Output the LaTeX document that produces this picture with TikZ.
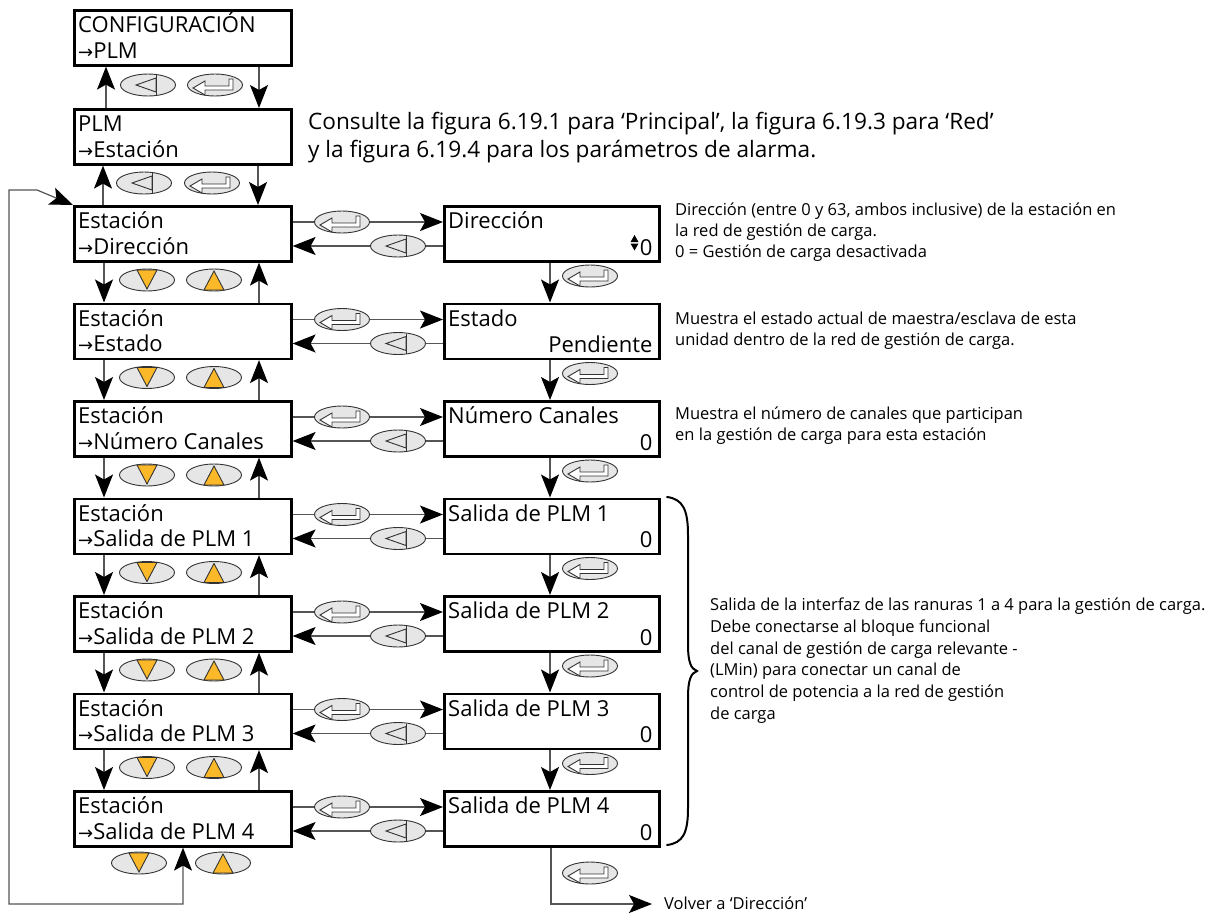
\documentclass[tikz,border=0pt]{standalone}
\usepackage{fontspec}
\setmainfont{Open Sans}
\newfontfamily\dv{DejaVu Sans}
\usetikzlibrary{arrows.meta,calc,shapes.geometric}
\definecolor{btnfill}{HTML}{E6E6E6}
\definecolor{btnline}{HTML}{333333}
\definecolor{orng}{HTML}{FBB829}
\definecolor{connc}{HTML}{555555}
\newcommand\myarr{{\dv\fontsize{18}{18}\selectfont →}}
\tikzset{
 box/.style={draw=black, line width=2.6pt, minimum width=217pt, minimum height=55pt, anchor=north west, inner sep=0pt, fill=white},
 btn/.style={ellipse, draw=btnline, fill=btnfill, line width=0.9pt, minimum width=55pt, minimum height=22pt, inner sep=0pt},
 conn/.style={draw=connc, line width=1.2pt},
 arr/.style={conn, -{Stealth[length=23pt,width=18pt,inset=5pt,black]}},
 arrboth/.style={conn, {Stealth[length=23pt,width=18pt,inset=5pt,black]}-{Stealth[length=23pt,width=18pt,inset=5pt,black]}},
 bt/.style={anchor=base west, inner sep=0pt, font=\fontsize{22}{24}\selectfont},
 btr/.style={anchor=base east, inner sep=0pt, font=\fontsize{22}{24}\selectfont},
 big/.style={anchor=base west, inner sep=0pt, font=\fontsize{22.6}{26}\selectfont},
 desc/.style={anchor=base west, inner sep=0pt, font=\fontsize{16.5}{21.5}\selectfont},
 icon/.style={draw=btnline, line width=0.9pt},
 backbtn/.pic={\node[btn] (-e) {};
   \draw[icon] (-12,0) -- (8,-7) -- (8,7) -- cycle;
   \draw[icon] (8,-10) -- (8,10);},
 enterbtn/.pic={\node[btn] (-e) {};
   \draw[icon, fill=white] (-22,3) -- (-10,-4) -- (-10,1) -- (14,1) -- (14,-6) -- (18,-6) -- (18,5) -- (-10,5) -- (-10,10) -- cycle;},
 downbtn/.pic={\node[btn] (-e) {};
   \draw[icon, fill=orng] (-10,-10) -- (10,-10) -- (0,9) -- cycle;},
 upbtn/.pic={\node[btn] (-e) {};
   \draw[icon, fill=orng] (-10,10) -- (10,10) -- (0,-9) -- cycle;},
}
\begin{document}
\begin{tikzpicture}[x=1pt,y=-1pt]
\useasboundingbox (0,0) rectangle (1218,913);
\fill[white] (0,0) rectangle (1218,913);

% ---------- boxes ----------
\node[box] (C) at (73,9) {};
\node[box] (P) at (73,108) {};
\foreach \i in {0,...,6} {
  \pgfmathsetmacro\yy{205+97.5*\i}
  \node[box] (L\i) at (73,\yy) {};
  \node[box, minimum width=215pt] (R\i) at (443,\yy) {};
}

% ---------- vertical connectors, left column ----------
\draw[arr] ($(P.north west)+(33,0)$) -- ($(C.south west)+(33,0)$);
\draw[arr] ($(C.south west)+(186,0)$) -- ($(P.north west)+(186,0)$);
\draw[arr] ($(L0.north west)+(30,0)$) -- ($(P.south west)+(30,0)$);
\draw[arr] ($(P.south west)+(185,0)$) -- ($(L0.north west)+(185,0)$);
\foreach \i [evaluate=\i as \j using int(\i+1)] in {0,...,5} {
  \draw[arr] ($(L\i.south west)+(31,0)$) -- ($(L\j.north west)+(31,0)$);
  \draw[arr] ($(L\j.north west)+(186,0)$) -- ($(L\i.south west)+(186,0)$);
  \draw[arr] ($(R\i.south west)+(107,0)$) -- ($(R\j.north west)+(107,0)$);
}

% ---------- horizontal connectors ----------
\foreach \i in {0,...,6} {
  \draw[arr] ($(L\i.north east)+(0,17)$) -- ($(R\i.north west)+(0,17)$);
  \draw[arr] ($(R\i.north west)+(0,41)$) -- ($(L\i.north east)+(0,41)$);
}

% ---------- loop back ----------
\coordinate (lp1) at (183,904);
\coordinate (lp2) at (9,904);
\coordinate (lp3) at (9,190);
\coordinate (lp4) at (37,190);
\draw[arrboth] ($(L6.south west)+(110,0)$) -- (lp1) -- (lp2) -- (lp3) -- (lp4) -- (L0.north west);

% ---------- return ----------
\coordinate (rt1) at (551,904);
\coordinate (rt2) at (652,904);
\draw[arr] ($(R6.south west)+(108,0)$) -- (rt1) -- (rt2);
\node[desc] (volver) at (664,909) {Volver a ‘Dirección’};

% ---------- buttons ----------
\pic (cb) at (148,85) {backbtn};
\pic (ce) at (215,85) {enterbtn};
\pic (pb) at (144,183) {backbtn};
\pic (pe) at (212,183) {enterbtn};
\foreach \i in {0,...,5} {
  \pgfmathsetmacro\yy{205+97.5*\i+75}
  \pic (d\i) at (147,\yy) {downbtn};
  \pic (u\i) at (214,\yy) {upbtn};
  \pgfmathsetmacro\yr{205+97.5*\i+71}
  \pic (re\i) at (590,\yr) {enterbtn};
}
\pic (d6) at (139,863) {downbtn};
\pic (u6) at (223,863) {upbtn};
\pic (re6) at (590,873) {enterbtn};
\foreach \i in {0,...,6} {
  \pgfmathsetmacro\ya{205+97.5*\i+17}
  \pgfmathsetmacro\yb{205+97.5*\i+41}
  \pic (he\i) at (342,\ya) {enterbtn};
  \pic (hb\i) at (398,\yb) {backbtn};
}

% ---------- box texts ----------
\node[bt] (Ct1) at ($(C.north west)+(5,23.5)$) {CONFIGURACIÓN};
\node[bt] (Ct2) at ($(C.north west)+(5,49)$) {\myarr PLM};
\node[bt] (Pt1) at ($(P.north west)+(5,23.5)$) {PLM};
\node[bt] (Pt2) at ($(P.north west)+(5,49)$) {\myarr Estación};
\foreach \i/\lab/\val in {0/Dirección/0, 1/Estado/Pendiente, 2/Número Canales/0, 3/Salida de PLM 1/0, 4/Salida de PLM 2/0, 5/Salida de PLM 3/0, 6/Salida de PLM 4/0} {
  \node[bt] (Lt\i) at ($(L\i.north west)+(5,23.5)$) {Estación};
  \node[bt] (Lv\i) at ($(L\i.north west)+(5,49)$) {\myarr\lab};
  \node[bt] (Rt\i) at ($(R\i.north west)+(5,23.5)$) {\lab};
  \node[btr] (Rv\i) at ($(R\i.north east)+(-8,50)$) {\val};
}
% up/down icon
\fill[black] ($(R0.north west)+(191.5,30)$) -- ($(R0.north west)+(187.5,37)$) -- ($(R0.north west)+(195.5,37)$) -- cycle;
\fill[black] ($(R0.north west)+(187.5,38.5)$) -- ($(R0.north west)+(195.5,38.5)$) -- ($(R0.north west)+(191.5,45.5)$) -- cycle;

% ---------- brace ----------
\draw[line width=2pt, line cap=round] (667,497) .. controls (683,499) and (688,510) .. (688,535) -- (688,645) .. controls (688,662) and (691,669) .. (697,671) .. controls (691,673) and (688,680) .. (688,697) -- (688,808) .. controls (688,833) and (683,843) .. (667,845);

% ---------- texts ----------
\node[big] (top1) at (308,129) {Consulte la figura 6.19.1 para ‘Principal’, la figura 6.19.3 para ‘Red’};
\node[big] (top2) at (308,157) {y la figura 6.19.4 para los parámetros de alarma.};

\node[desc] (d1a) at (675,215) {Dirección (entre 0 y 63, ambos inclusive) de la estación en};
\node[desc] (d1b) at (675,236) {la red de gestión de carga.};
\node[desc] (d1c) at (675,257) {0 = Gestión de carga desactivada};
\node[desc] (d2a) at (675,324) {Muestra el estado actual de maestra/esclava de esta};
\node[desc] (d2b) at (675,345.5) {unidad dentro de la red de gestión de carga.};
\node[desc] (d3a) at (675,419) {Muestra el número de canales que participan};
\node[desc] (d3b) at (675,440.5) {en la gestión de carga para esta estación};
\node[desc] (s1) at (710,610) {Salida de la interfaz de las ranuras 1 a 4 para la gestión de carga.};
\node[desc] (s2) at (710,632) {Debe conectarse al bloque funcional};
\node[desc] (s3) at (710,654) {del canal de gestión de carga relevante  -};
\node[desc] (s4) at (710,675.5) {(LMin) para conectar un canal de};
\node[desc] (s5) at (710,697) {control de potencia a la red de gestión};
\node[desc] (s6) at (710,719) {de carga};
\end{tikzpicture}
\end{document}
